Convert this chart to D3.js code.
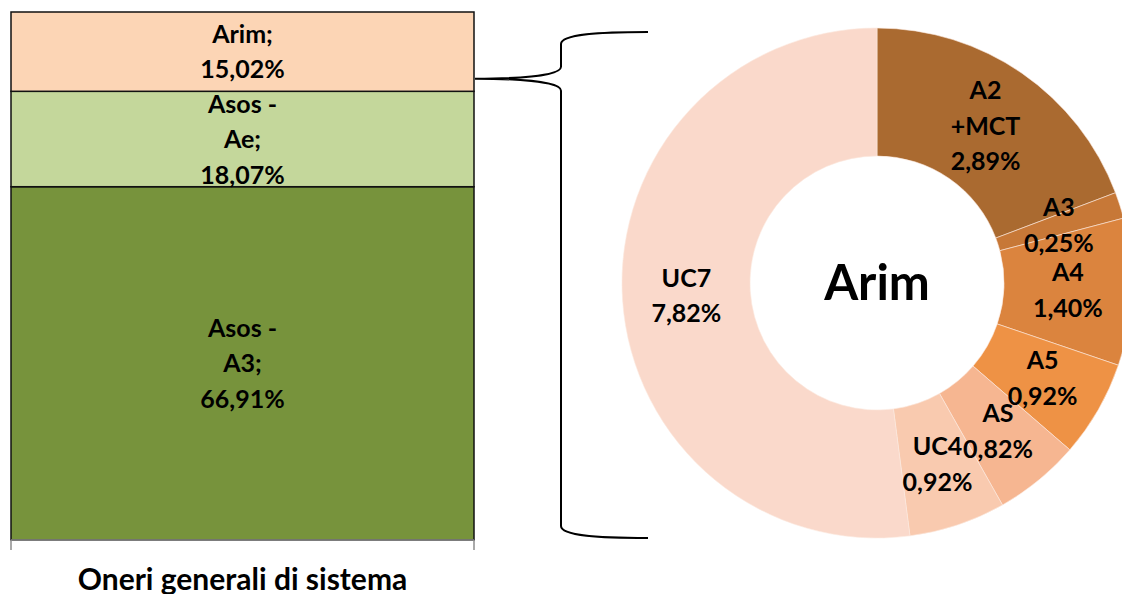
<!DOCTYPE html>
<html>
<head>
<meta charset="utf-8">
<script src="https://cdn.jsdelivr.net/npm/d3@7"></script>
<style>
  body { margin: 0; background: #fff; }
  svg text { font-family: Lato, "Open Sans", sans-serif; font-weight: 700; fill: #000; }
</style>
</head>
<body>
<div id="chart"></div>
<script>
// Stacked bar data (share of "Oneri generali di sistema")
const barCategory = 'Oneri generali di sistema';
const barNames = ['Asos - A3', 'Asos - Ae', 'Arim'];
const barValues = [66.91, 18.07, 15.02];
const barLabelLines = [['Asos -', 'A3;', '66,91%'], ['Asos -', 'Ae;', '18,07%'], ['Arim;', '15,02%']];
const barColors = ['#77933c', '#c4d79b', '#fcd5b5'];

// Donut breakdown of Arim
const donutTitle = 'Arim';
const donutNames = ['A2 +MCT', 'A3', 'A4', 'A5', 'AS', 'UC4', 'UC7'];
const donutValues = [2.89, 0.25, 1.40, 0.92, 0.82, 0.92, 7.82];
const donutLabelLines = [['A2', '+MCT', '2,89%'], ['A3', '0,25%'], ['A4', '1,40%'], ['A5', '0,92%'],
  ['AS', '0,82%'], ['UC4', '0,92%'], ['UC7', '7,82%']];
const donutColors = ['#aa6a30', '#c77837', '#db843e', '#ee9245', '#f6b691', '#f9caaf', '#fad9cb'];

const width = 1122, height = 594;
const svg = d3.select('#chart').append('svg')
  .attr('width', width)
  .attr('height', height);

// ---- stacked bar ----
const x = d3.scaleBand().domain([barCategory]).range([11, 474]).paddingInner(0).paddingOuter(0);
const y = d3.scaleLinear().domain([0, 100]).range([540, 12]);

let acc = 0;
const stacked = barValues.map((v, i) => {
  const d = { name: barNames[i], y0: acc, y1: acc + v, lines: barLabelLines[i], color: barColors[i] };
  acc += v;
  return d;
});

const bars = svg.append('g');
bars.selectAll('rect')
  .data(stacked)
  .enter()
  .append('rect')
  .attr('x', x(barCategory))
  .attr('width', x.bandwidth())
  .attr('y', d => y(d.y1))
  .attr('height', d => y(d.y0) - y(d.y1))
  .attr('fill', d => d.color)
  .attr('stroke', '#111')
  .attr('stroke-width', 1.5);

const lineH = 35.5;
const labelSize = 25;
bars.selectAll('text')
  .data(stacked)
  .enter()
  .append('text')
  .attr('text-anchor', 'middle')
  .attr('font-size', labelSize + 'px')
  .each(function(d) {
    const cy = (y(d.y0) + y(d.y1)) / 2;
    const n = d.lines.length;
    d3.select(this).selectAll('tspan')
      .data(d.lines)
      .enter()
      .append('tspan')
      .attr('x', x(barCategory) + x.bandwidth() / 2)
      .attr('y', (t, j) => cy + (j - (n - 1) / 2) * lineH + 9)
      .text(t => t);
  });

// category axis
const axis = svg.append('g');
const [ax0, ax1] = x.range();
axis.append('line')
  .attr('x1', ax0).attr('x2', ax1)
  .attr('y1', y(0)).attr('y2', y(0))
  .attr('stroke', '#8c8c8c').attr('stroke-width', 1.5);
[ax0, ax1].forEach(px => {
  axis.append('line')
    .attr('x1', px).attr('x2', px)
    .attr('y1', y(0)).attr('y2', y(0) + 10)
    .attr('stroke', '#8c8c8c').attr('stroke-width', 1.5);
});
axis.append('text')
  .attr('x', x(barCategory) + x.bandwidth() / 2)
  .attr('y', 590)
  .attr('text-anchor', 'middle')
  .attr('font-size', '30px')
  .text(barCategory);

// ---- donut ----
const cx = 877, cy = 283, outerR = 255, innerR = 127;
const pie = d3.pie().sort(null).value(d => d.value);
const arc = d3.arc().innerRadius(innerR).outerRadius(outerR);
const donutData = pie(donutValues.map((v, i) => ({ name: donutNames[i], value: v, lines: donutLabelLines[i], color: donutColors[i] })));

const donut = svg.append('g').attr('transform', `translate(${cx},${cy})`);
donut.selectAll('path')
  .data(donutData)
  .enter()
  .append('path')
  .attr('d', arc)
  .attr('fill', d => d.data.color)
  .attr('stroke', '#fbe9df')
  .attr('stroke-width', 0.6);

donut.selectAll('text.lbl')
  .data(donutData)
  .enter()
  .append('text')
  .attr('class', 'lbl')
  .attr('text-anchor', 'middle')
  .attr('font-size', labelSize + 'px')
  .each(function(d) {
    const [lx, ly] = arc.centroid(d);
    const n = d.data.lines.length;
    d3.select(this).selectAll('tspan')
      .data(d.data.lines)
      .enter()
      .append('tspan')
      .attr('x', lx)
      .attr('y', (t, j) => ly + (j - (n - 1) / 2) * lineH + 9)
      .text(t => t);
  });

donut.append('text')
  .attr('text-anchor', 'middle')
  .attr('y', 17)
  .attr('font-size', '49px')
  .text(donutTitle);

// ---- brace linking Arim segment to the donut ----
const tipX = x(barCategory) + x.bandwidth() + 1;
const tipY = (y(stacked[2].y0) + y(stacked[2].y1)) / 2 + 27;
const braceX = 561, endX = 648, topY = cy - outerR + 4, botY = cy + outerR;
const brace = d3.path();
brace.moveTo(endX, topY);
brace.bezierCurveTo(600, topY, braceX, topY + 2, braceX, topY + 12);
brace.lineTo(braceX, tipY - 12);
brace.bezierCurveTo(braceX, tipY - 2, 510, tipY, tipX, tipY);
brace.bezierCurveTo(510, tipY, braceX, tipY + 2, braceX, tipY + 12);
brace.lineTo(braceX, botY - 12);
brace.bezierCurveTo(braceX, botY - 2, 600, botY, endX, botY);
svg.append('path')
  .attr('d', brace.toString())
  .attr('fill', 'none')
  .attr('stroke', '#000')
  .attr('stroke-width', 2);
</script>
</body>
</html>
